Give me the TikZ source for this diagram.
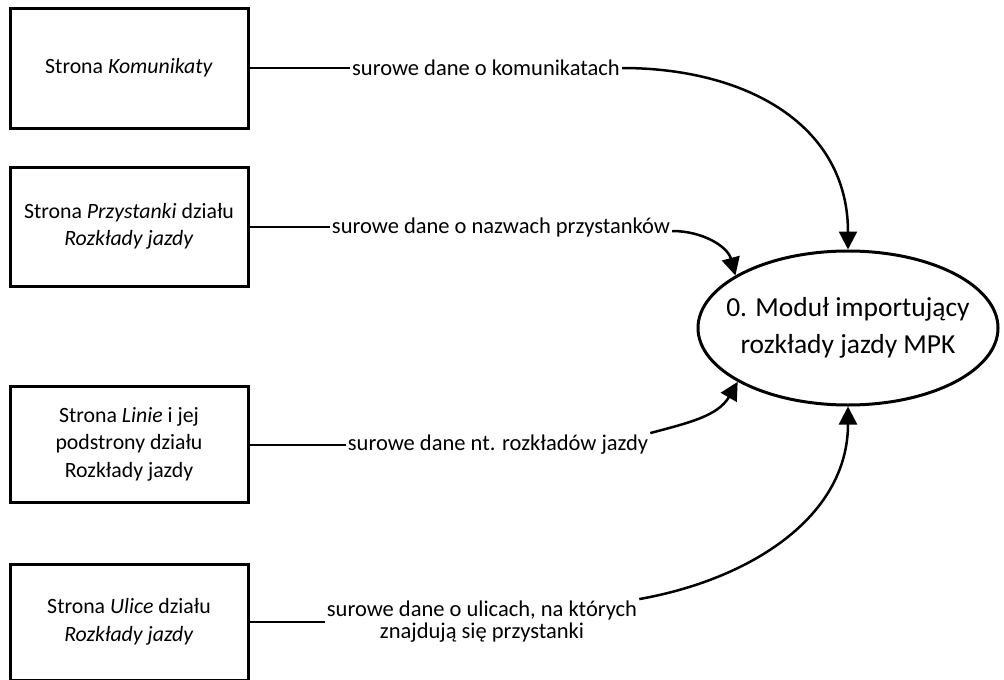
\documentclass[tikz,border=0pt]{standalone}
\usepackage{fontspec}
\setmainfont{Carlito}
\usetikzlibrary{arrows.meta,shapes.geometric}
\begin{document}
\begin{tikzpicture}[x=1pt,y=-1pt,
  srcbox/.style={draw,line width=3pt,minimum width=238pt,align=center,font=\fontsize{21.8}{27.5}\selectfont,inner sep=0pt},
  flowlbl/.style={font=\fontsize{22.5}{22}\selectfont,inner sep=2pt,align=center},
  flow/.style={line width=2.5pt},
  flowarr/.style={flow,-{Triangle[length=18pt,width=18pt]}},
  proc/.style={ellipse,draw,line width=3pt,minimum width=300pt,minimum height=154pt,align=center,font=\fontsize{27.5}{37}\selectfont,inner xsep=-20pt,inner ysep=0pt}]
\useasboundingbox (0,0) rectangle (1004,680);
\node[srcbox,minimum height=120pt] (b1) at (129,68) {Strona \textit{Komunikaty}};
\node[srcbox,minimum height=119pt] (b2) at (129,226.5) {Strona \textit{Przystanki} działu\\\textit{Rozkłady jazdy}};
\node[srcbox,minimum height=116pt] (b3) at (129,444) {Strona \textit{Linie} i jej\\podstrony działu\\Rozkłady jazdy};
\node[srcbox,minimum height=116pt] (b4) at (129,622) {Strona \textit{Ulice} działu\\\textit{Rozkłady jazdy}};
\node[proc] (p) at (848,328) {0. Moduł importujący\\rozkłady jazdy MPK};
\node[flowlbl] (l1) at (486,68) {surowe dane o komunikatach};
\node[flowlbl] (l2) at (501,227) {surowe dane o nazwach przystanków};
\node[flowlbl] (l3) at (498,445) {surowe dane nt. rozkładów jazdy};
\node[flowlbl] (l4) at (482,622) {surowe dane o ulicach, na których\\znajdują się przystanki};
\draw[flow] (b1.east) -- (l1.west);
\draw[flowarr] (l1.east) to[out=0,in=90,looseness=1.1] (p.north);
\draw[flow] (b2.east |- l2.west) -- (l2.west);
\draw[flowarr] ([yshift=-4pt]l2.east) to[out=0,in=105] (p.155);
\draw[flow] (b3.east |- l3.west) -- (l3.west);
\draw[flowarr] (l3.north east) to[out=15,in=240] (p.206);
\draw[flow] (b4.east |- l4.west) -- (l4.west);
\draw[flowarr] (l4.north east) to[out=10,in=-90] (p.south);
\end{tikzpicture}
\end{document}
